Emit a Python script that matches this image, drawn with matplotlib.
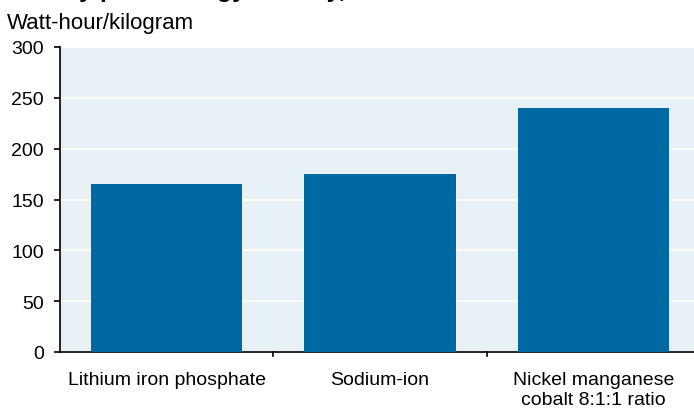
import matplotlib
matplotlib.use("Agg")
import matplotlib.pyplot as plt

plt.rcParams['font.family'] = ['Liberation Sans', 'DejaVu Sans']

categories = ["Lithium iron phosphate", "Sodium-ion", "Nickel manganese\ncobalt 8:1:1 ratio"]
values = [165, 175, 240]
yticks = [0, 50, 100, 150, 200, 250, 300]

title = "Battery pack energy density, 2023"
unit = "Watt-hour/kilogram"

bg = "#e7f0f4"
bar_color = "#0068a3"

fig = plt.figure(figsize=(6.94, 4.10), dpi=100)
W, H = 694, 410
left, right, top, bottom = 60, 700, 48, 353
ax = fig.add_axes([left / W, 1 - bottom / H, (right - left) / W, (bottom - top) / H])
ax.set_facecolor(bg)

x = list(range(len(categories)))
ax.bar(x, values, width=0.71, color=bar_color, zorder=3)
ax.set_xlim(-0.5, len(categories) - 0.5)
ax.set_ylim(0, 300)
ax.set_yticks(yticks)
ax.yaxis.grid(True, color="white", linewidth=1.2, zorder=1)
ax.set_axisbelow(True)

ax.set_xticks(x)
ax.set_xticklabels(categories, fontsize=14, linespacing=1.2)
ax.tick_params(axis='x', length=0, pad=14)
# boundary ticks between categories
for b in [0.5, 1.5]:
    ax.plot([b, b], [0, -4], color="black", linewidth=1.2, clip_on=False)
ax.tick_params(axis='y', labelsize=14, length=4.5, width=1.2, direction='out', pad=7)

for s in ['top', 'right']:
    ax.spines[s].set_visible(False)
ax.spines['left'].set_linewidth(1.2)
ax.spines['bottom'].set_linewidth(1.2)

fig.text(7 / W, 1 - 29 / H, unit, fontsize=16, ha='left', va='baseline')
fig.text(7 / W, 1 - (-3.5) / H, title, fontsize=18, fontweight='bold', ha='left', va='baseline')

fig.savefig("out.png", dpi=100)
